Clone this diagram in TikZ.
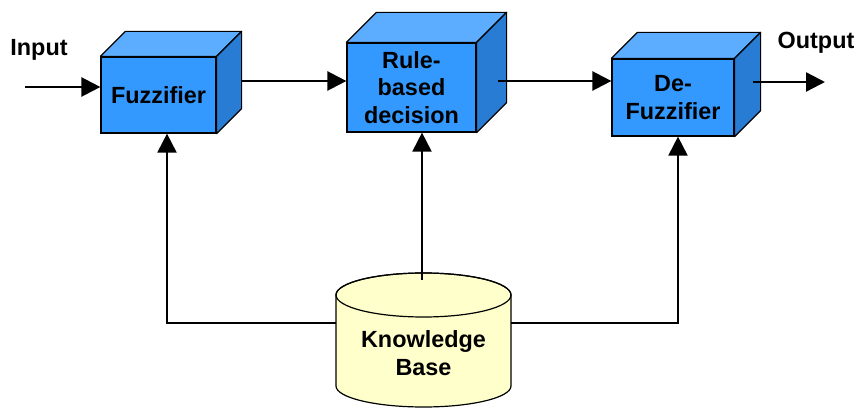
\documentclass[tikz,border=0pt]{standalone}
\usepackage{fontspec}
\setmainfont{Liberation Sans}
\usetikzlibrary{arrows.meta}
\definecolor{frontblue}{RGB}{51,153,255}
\definecolor{topblue}{RGB}{92,172,255}
\definecolor{sideblue}{RGB}{40,124,212}
\definecolor{kbyellow}{RGB}{255,255,204}
\begin{document}
\begin{tikzpicture}[x=0.5pt,y=0.5pt,
	font=\fontsize{11.7}{13.8}\selectfont\bfseries,
	front/.style={draw=black,line width=0.6pt,fill=frontblue,inner sep=0pt,align=center},
	topface/.style={draw=black,line width=0.6pt,fill=topblue,line join=round},
	sideface/.style={draw=black,line width=0.6pt,fill=sideblue,line join=round},
	arr/.style={line width=1.2pt,-{Triangle[length=9.5pt,width=9.5pt]}},
	kbline/.style={line width=1pt,-{Triangle[length=9.5pt,width=9.5pt]}}]
		\useasboundingbox (0,0) rectangle (859,408);

		% the three blocks
		\node[front,minimum width=57.5pt,minimum height=38pt] (fuz) at (158.5,313) {Fuzzifier};
		\node[front,minimum width=64.5pt,minimum height=44.5pt] (rule) at (411.5,320.5) {Rule-\\based\\decision};
		\node[front,minimum width=61pt,minimum height=38.5pt] (defuz) at (673,310.5) {De-\\Fuzzifier};

		\foreach \n/\d in {fuz/25,rule/30,defuz/26}{
			\draw[topface] (\n.north west) -- ++(\d,\d) -- ([shift={(\d,\d)}]\n.north east) -- (\n.north east) -- cycle;
			\draw[sideface] (\n.north east) -- ++(\d,\d) -- ([shift={(\d,\d)}]\n.south east) -- (\n.south east) -- cycle;
		}

		% knowledge base
		\filldraw[fill=kbyellow,line width=0.6pt] (336,113) -- (336,22) arc[start angle=180,end angle=360,x radius=43.75pt,y radius=10.5pt] -- (511,113) arc[start angle=0,end angle=180,x radius=43.75pt,y radius=11pt] -- cycle;
		\draw[line width=0.6pt] (423.5,113) ellipse [x radius=43.75pt,y radius=11pt];
		\node[align=center] (kb) at (423.5,55) {Knowledge\\Base};

		\coordinate (kbtop) at (422,128);
		\coordinate (kbl) at (336,85);
		\coordinate (kbr) at (511,85);
		\coordinate (in) at (25,321);
		\coordinate (out) at (825,326);

		\node (input) at (39,358) {Input};
		\node (output) at (816,365) {Output};

		\draw[arr] (in) -- (in -| fuz.west);
		\draw[arr] ([shift={(25,14)}]fuz.east) -- ([shift={(0,6.5)}]rule.west);
		\draw[arr] ([shift={(21,6.5)}]rule.east) -- ([shift={(0,16.5)}]defuz.west);
		\draw[arr] ([shift={(18,15.5)}]defuz.east) -- (out);

		\draw[kbline] (kbl) -| ([xshift=4.25pt]fuz.south);
		\draw[kbline] (kbtop) -- (kbtop |- rule.south);
		\draw[kbline] (kbr) -| ([xshift=2.5pt]defuz.south);
\end{tikzpicture}
\end{document}
